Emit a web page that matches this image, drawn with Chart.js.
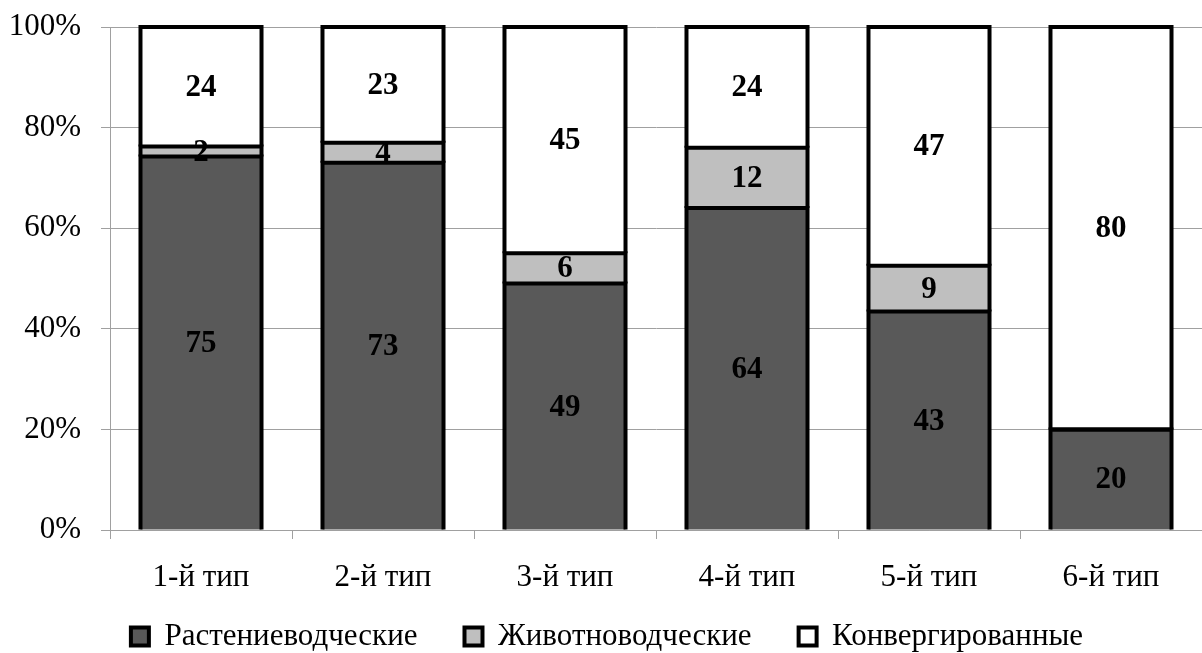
<!DOCTYPE html>
<html>
<head>
<meta charset="utf-8">
<script src="https://cdn.jsdelivr.net/npm/chart.js@4/dist/chart.umd.min.js"></script>
<style>
  html, body { margin: 0; padding: 0; background: #ffffff; }
  #wrap { width: 1202px; height: 653px; position: relative; }
</style>
</head>
<body>
<div id="wrap"><canvas id="c"></canvas></div>
<script>
// Farm types and the share of each product group (raw values, shown as labels)
const categories = ['1-й тип', '2-й тип', '3-й тип', '4-й тип', '5-й тип', '6-й тип'];
const seriesNames = ['Растениеводческие', 'Животноводческие', 'Конвергированные'];
const crops      = [75, 73, 49, 64, 43, 20];
const livestock  = [2, 4, 6, 12, 9, 0];
const converged  = [24, 23, 45, 24, 47, 80];
const yTicks = [0, 20, 40, 60, 80, 100];

const seriesValues = [crops, livestock, converged];
const fills = ['#595959', '#bfbfbf', '#ffffff'];

// 100% stacking: each column is scaled by its own total
const totals = categories.map((_, i) => seriesValues.reduce((s, arr) => s + arr[i], 0));
const toPercent = arr => arr.map((v, i) => v / totals[i] * 100);

const FONT = '"Liberation Serif", "Times New Roman", serif';
const EDGE = 4;

// Black outline of each segment, stroked centred on its edges so that
// shared edges of stacked segments form a single line
const segmentOutline = {
  id: 'segmentOutline',
  afterDatasetsDraw(chart) {
    const ctx = chart.ctx;
    ctx.save();
    ctx.strokeStyle = '#000000';
    ctx.lineWidth = EDGE;
    ctx.lineJoin = 'miter';
    chart.data.datasets.forEach((ds, di) => {
      chart.getDatasetMeta(di).data.forEach(el => {
        const p = el.getProps(['x', 'y', 'base', 'width'], true);
        const left = p.x - p.width / 2, right = p.x + p.width / 2;
        const top = Math.min(p.y, p.base), bottom = Math.max(p.y, p.base);
        ctx.beginPath();
        ctx.moveTo(left, bottom);
        ctx.lineTo(left, top);
        ctx.lineTo(right, top);
        ctx.lineTo(right, bottom);
        ctx.stroke();
      });
    });
    ctx.restore();
  }
};

const valueLabels = {
  id: 'valueLabels',
  afterDatasetsDraw(chart) {
    const ctx = chart.ctx;
    ctx.save();
    ctx.font = 'bold 31px ' + FONT;
    ctx.fillStyle = '#000000';
    ctx.textAlign = 'center';
    ctx.textBaseline = 'middle';
    chart.data.datasets.forEach((ds, di) => {
      chart.getDatasetMeta(di).data.forEach((el, i) => {
        const raw = seriesValues[di][i];
        if (!raw) return;
        const p = el.getProps(['x', 'y', 'base'], true);
        ctx.fillText(String(raw), p.x, (p.y + p.base) / 2 + 1);
      });
    });
    ctx.restore();
  }
};

// The legend row sits a little higher and further right than the default slot
const legendNudge = {
  id: 'legendNudge',
  afterLayout(chart) {
    const lg = chart.legend;
    if (!lg) return;
    lg.top -= 28; lg.bottom -= 28;
    lg.left += 6; lg.right += 6;
  }
};

new Chart(document.getElementById('c'), {
  type: 'bar',
  data: {
    labels: categories,
    datasets: seriesValues.map((arr, k) => ({
      label: seriesNames[k],
      data: toPercent(arr),
      backgroundColor: fills[k],
      borderWidth: 0,
      barPercentage: 0.665,
      categoryPercentage: 1.0
    }))
  },
  options: {
    responsive: true,
    maintainAspectRatio: false,
    animation: false,
    layout: { padding: { top: 27, right: 0, left: 0, bottom: -37 } },
    scales: {
      x: {
        stacked: true,
        offset: true,
        grid: {
          offset: true,
          drawOnChartArea: false,
          drawTicks: true,
          tickLength: 9,
          color: '#a0a0a0'
        },
        border: { display: true, color: '#a0a0a0', width: 1 },
        ticks: {
          color: '#000000',
          font: { family: FONT, size: 31 },
          padding: 20,
          maxRotation: 0
        },
        afterFit(scale) { scale.height = 72; }
      },
      y: {
        stacked: true,
        min: 0,
        max: 100,
        afterBuildTicks(scale) { scale.ticks = yTicks.map(v => ({ value: v })); },
        grid: {
          color: '#a0a0a0',
          lineWidth: 1,
          drawTicks: true,
          tickLength: 9
        },
        border: { display: true, color: '#a0a0a0', width: 1 },
        ticks: {
          color: '#000000',
          font: { family: FONT, size: 31 },
          padding: 20,
          callback: v => v + '%'
        },
        afterFit(scale) {
          scale.width = 110;
          scale.paddingTop = 0;
          scale.paddingBottom = 0;
        }
      }
    },
    plugins: {
      legend: {
        position: 'bottom',
        labels: {
          color: '#000000',
          font: { family: FONT, size: 31 },
          boxWidth: 18,
          boxHeight: 18,
          padding: 47,
          generateLabels(chart) {
            return Chart.defaults.plugins.legend.labels.generateLabels(chart).map(item => ({
              ...item,
              strokeStyle: '#000000',
              lineWidth: EDGE
            }));
          }
        }
      },
      tooltip: { enabled: false }
    }
  },
  plugins: [segmentOutline, valueLabels, legendNudge]
});
</script>
</body>
</html>
